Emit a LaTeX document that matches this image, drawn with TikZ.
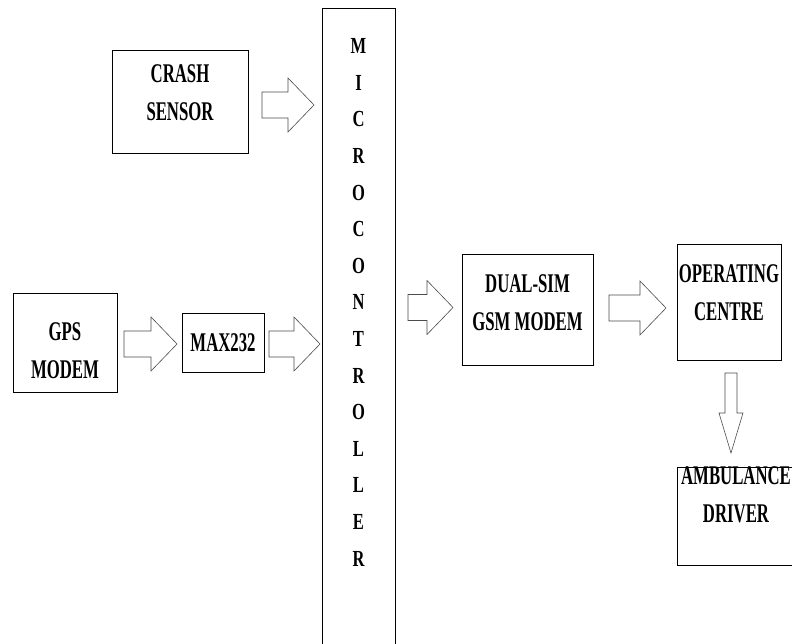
\documentclass[tikz,border=0pt]{standalone}
\usepackage{fontspec}
\setmainfont{Liberation Serif}[FakeStretch=0.62]
\newfontfamily\mcufont{Liberation Serif}[FakeStretch=0.72]
% block arrow: tail x, middle y, length
\newcommand{\harrow}[3]{%
  \draw[blk] (#1,#2-13) -- (#1+#3-26,#2-13) -- (#1+#3-26,#2-27) -- (#1+#3,#2)
    -- (#1+#3-26,#2+27) -- (#1+#3-26,#2+13) -- (#1,#2+13) -- cycle;}
\begin{document}
\begin{tikzpicture}[x=1pt, y=-1pt,
    box/.style={draw, line width=0.8pt, align=center, inner sep=0pt,
      font=\fontsize{27}{38}\selectfont\bfseries},
    blk/.style={draw=black!70, line width=0.6pt, fill=white}]
  \useasboundingbox (0,0) rectangle (792,644);

  \node[box, minimum width=136, minimum height=103, text depth=18pt] (crash) at (180,101.5) {CRASH\\SENSOR};
  \node[box, minimum width=104, minimum height=99, text height=73pt] (gps) at (65,342.5) {GPS\\MODEM};
  \node[box, minimum width=82, minimum height=59] (max) at (223,342.5) {MAX232};
  \node[box, anchor=north, minimum width=73, minimum height=660, text depth=72pt,
    font=\mcufont\fontsize{23}{36.6}\selectfont\bfseries] (mcu) at (358.5,8)
    {M\\I\\C\\R\\O\\C\\O\\N\\T\\R\\O\\L\\L\\E\\R};
  \node[box, minimum width=131, minimum height=111, text depth=13pt] (gsm) at (527.5,309.5) {DUAL-SIM\\GSM MODEM};
  \node[box, minimum width=104, minimum height=116, text depth=18pt] (oc) at (729,302) {OPERATING\\CENTRE};
  \node[box, minimum width=118, minimum height=98, text depth=42pt] (amb) at (736,516) {AMBULANCE\\DRIVER};

  \harrow{262}{105}{52}
  \harrow{124}{344}{53}
  \harrow{269}{344}{51}
  \harrow{408}{307.5}{45}
  \harrow{609}{308}{57}
  \draw[blk] (725,373) -- (737,373) -- (737,413) -- (743,413) -- (731,453) -- (719,413) -- (725,413) -- cycle;
\end{tikzpicture}
\end{document}
